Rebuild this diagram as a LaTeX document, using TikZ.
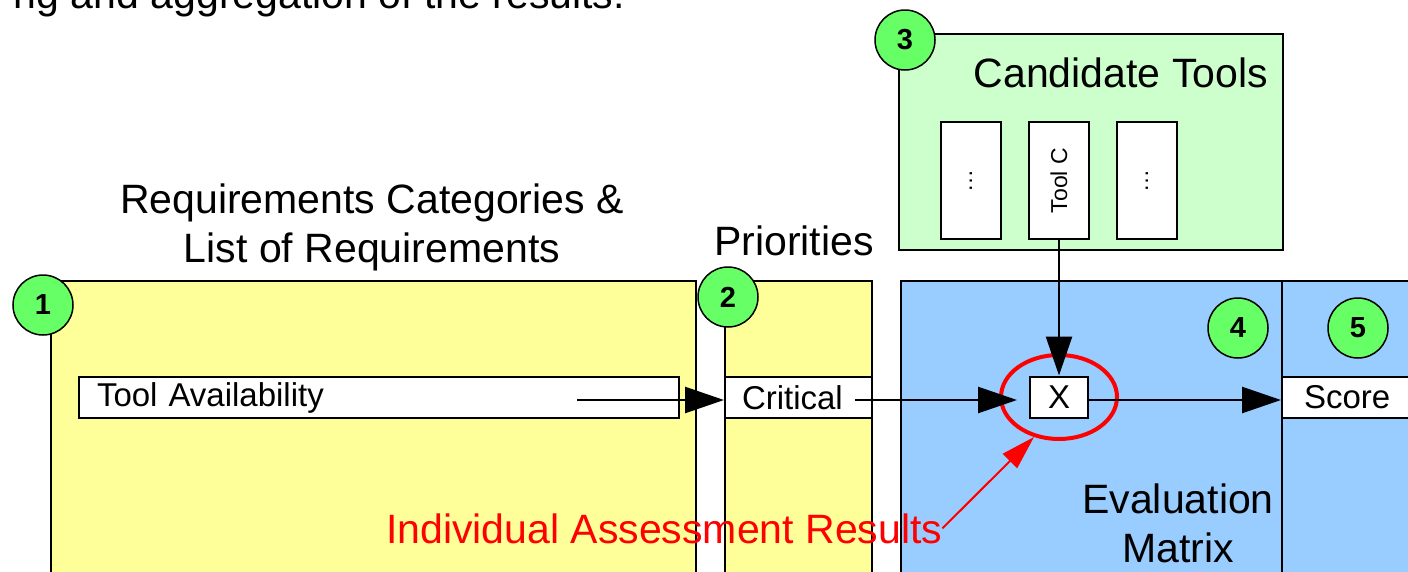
\documentclass[tikz,border=0pt]{standalone}
\usepackage{fontspec}
\setmainfont{Liberation Sans}
\usetikzlibrary{arrows.meta,shapes.geometric}
\definecolor{reqyellow}{HTML}{FFFF99}
\definecolor{evalblue}{HTML}{99CCFF}
\definecolor{toolgreen}{HTML}{CCFFCC}
\definecolor{discgreen}{HTML}{66FF66}
\newcommand{\bigfont}{\fontsize{41}{49}\selectfont}
\newcommand{\rowfont}{\fontsize{33}{40}\selectfont}

\begin{document}
\begin{tikzpicture}[x=1pt,y=-1pt,
	panel/.style={draw,line width=2pt,anchor=north west,inner sep=0pt,minimum height=330pt},
	rowbox/.style={draw,line width=2pt,fill=white,anchor=west,minimum height=41pt,inner ysep=0pt,align=left,font=\rowfont},
	numdisc/.style={circle,draw,line width=1.5pt,fill=discgreen,minimum size=60pt,inner sep=0pt,font=\fontsize{29}{34}\selectfont\bfseries},
	toolbox/.style={draw,line width=2pt,fill=white,rotate=90,minimum width=117pt,minimum height=60pt,inner sep=0pt,font=\fontsize{23}{28}\selectfont},
	title/.style={font=\bigfont,inner sep=0pt},
	flow/.style={line width=2.5pt,-{Triangle[length=39pt,width=26pt]}},
	redflow/.style={red,line width=2pt,-{Triangle[length=34pt,width=20pt]}}]
	%
	\useasboundingbox (0,0) rectangle (1408,571);
	\clip (0,0) rectangle (1408,571);
	%
	\node[panel,fill=reqyellow,minimum width=645pt] (req) at (50,280) {};
	\node[panel,fill=reqyellow,minimum width=147pt] (prio) at (724,280) {};
	\node[panel,fill=evalblue,minimum width=381pt] (evalm) at (900,280) {};
	\node[panel,fill=evalblue,minimum width=200pt] (total) at (1281,280) {};
	\node[panel,fill=toolgreen,minimum width=384pt,minimum height=216pt] (cand) at (898,33) {};
	%
	\foreach \t/\x/\txt in {tla/971/…,tlb/1059/Tool C,tlc/1147/…}
		\node[toolbox] (\t) at (\x,180.5) {\txt};
	%
	\node[rowbox,text width=564pt,inner xsep=18pt] (tav) at (78,397.5) {Tool Availability};
	\node[rowbox,text width=113pt,inner xsep=17pt] (crit) at (724,397.5) {Critical};
	\node[rowbox,text width=160pt,inner xsep=22pt] (scr) at (1281,397.5) {Score};
	\node[rowbox,anchor=center,minimum width=58pt,inner xsep=0pt,align=center] (xcell) at (1059,397) {X};
	\node[ellipse,draw=red,line width=4pt,minimum width=116pt,minimum height=84pt] (hit) at (1059,397) {};
	%
	\coordinate (tavout) at (577,400);
	\coordinate (critout) at (855,400);
	\draw[flow] (tavout) -- (tavout -| crit.west);
	\draw[flow,shorten >=12pt] (critout) -- (critout -| xcell.west);
	\draw[flow] (critout -| xcell.east) -- (critout -| scr.west);
	\draw[flow] (tlb.west) -- (xcell.north);
	%
	\foreach \n/\x/\y in {1/43/305,2/728/297,3/905/40,4/1238/328,5/1358/328}
		\node[numdisc] (num\n) at (\x,\y) {\n};
	%
	\node[title,align=center,anchor=base] (reqtitle) at (372,262) {Requirements Categories \&\\List of Requirements};
	\node[title,anchor=base] (priotitle) at (794,255) {Priorities};
	\node[title,anchor=base east] (candtitle) at (1268,87) {Candidate Tools};
	\node[title,align=center,anchor=base] (evaltitle) at (1178,562) {Evaluation\\Matrix};
	\node[title,text=red,anchor=base west] (assess) at (386,543) {Individual Assessment Results};
	\node[title,anchor=base east] (lead) at (625,8) {ng and aggregation of the results.};
	\draw[redflow] (assess.east) -- (hit.238);
\end{tikzpicture}
\end{document}
